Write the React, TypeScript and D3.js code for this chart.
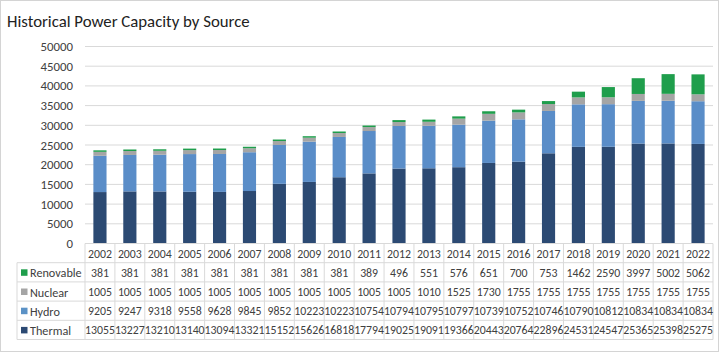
import React from "react";
import * as d3 from "d3";

const years = ["2002", "2003", "2004", "2005", "2006", "2007", "2008", "2009", "2010", "2011", "2012",
  "2013", "2014", "2015", "2016", "2017", "2018", "2019", "2020", "2021", "2022"];

const renovable = [381, 381, 381, 381, 381, 381, 381, 381, 381, 389, 496, 551, 576, 651, 700, 753, 1462, 2590, 3997, 5002, 5062];
const nuclear = [1005, 1005, 1005, 1005, 1005, 1005, 1005, 1005, 1005, 1005, 1005, 1010, 1525, 1730, 1755, 1755, 1755, 1755, 1755, 1755, 1755];
const hydro = [9205, 9247, 9318, 9558, 9628, 9845, 9852, 10223, 10223, 10754, 10794, 10795, 10797, 10739, 10752, 10746, 10790, 10812, 10834, 10834, 10834];
const thermal = [13055, 13227, 13210, 13140, 13094, 13321, 15152, 15626, 16818, 17794, 19025, 19091, 19366, 20443, 20764, 22896, 24531, 24547, 25365, 25398, 25275];

const yTicks = [0, 5000, 10000, 15000, 20000, 25000, 30000, 35000, 40000, 45000, 50000];

const series = [
  { key: "Thermal", values: thermal, color: "#2c4a73", legend: "#2c4a73" },
  { key: "Hydro", values: hydro, color: "#5a8dc8", legend: "#5b92c6" },
  { key: "Nuclear", values: nuclear, color: "#a5a5a5", legend: "#a5a5a5" },
  { key: "Renovable", values: renovable, color: "#1f9e4c", legend: "#1f9e4c" },
];

const W = 720;
const H = 354;
const FONT = "Carlito, Calibri, 'Open Sans', sans-serif";

export default function App() {
  const left = 85;
  const right = 713;
  const top = 46.5;
  const base = 243.5;
  const rowH = 19.2;

  const x = d3.scaleBand<string>().domain(years).range([left, right]).padding(0);
  const y = d3.scaleLinear().domain([0, 50000]).range([base, top]);
  const barW = x.bandwidth() * 0.44;

  const table = years.map((yr, i) => {
    const row: any = { year: yr };
    series.forEach(s => (row[s.key] = s.values[i]));
    return row;
  });
  const stacked = d3.stack<any>().keys(series.map(s => s.key))(table);

  // rows of the data table, top to bottom
  const tableRows = [...series].reverse();
  const tableTop = base;
  const tableBottom = base + rowH * (tableRows.length + 1);
  const legendLeft = 17;

  return (
    <div style={{ position: "absolute", left: 0, top: 0 }}>
      <svg width={W} height={H} style={{ display: "block", fontFamily: FONT }}>
        <rect x={0} y={0} width={W} height={H} fill="#fff" />
        <rect x={0.5} y={0.5} width={W - 2} height={H - 3} fill="none" stroke="#d4d4d4" />

        <text x={7} y={26.5} fontSize={16.8} fill="#222">Historical Power Capacity by Source</text>

        {yTicks.map(t => (
          <g key={t}>
            {t > 0 && (
              <line x1={left} x2={right} y1={y(t)} y2={y(t)} stroke="#d9d9d9" strokeWidth={1} />
            )}
            <text x={73} y={y(t)} textAnchor="end" dominantBaseline="central" fontSize={12.8} fill="#404040">
              {t}
            </text>
          </g>
        ))}

        {stacked.map((layer, li) => (
          <g key={layer.key} fill={series[li].color}>
            {layer.map((d, i) => (
              <rect
                key={years[i]}
                x={x(years[i])! + (x.bandwidth() - barW) / 2}
                width={barW}
                y={y(d[1])}
                height={y(d[0]) - y(d[1])}
              />
            ))}
          </g>
        ))}

        {/* data table */}
        <g stroke="#d9d9d9" strokeWidth={1} fill="none">
          <line x1={left} x2={right} y1={tableTop} y2={tableTop} />
          {d3.range(1, tableRows.length + 2).map(r => (
            <line key={r} x1={legendLeft} x2={right} y1={tableTop + r * rowH} y2={tableTop + r * rowH} />
          ))}
          <line x1={legendLeft} x2={legendLeft} y1={tableTop + rowH} y2={tableBottom} />
          {years.map(yr => (
            <line key={yr} x1={x(yr)!} x2={x(yr)!} y1={tableTop} y2={tableBottom} />
          ))}
          <line x1={right} x2={right} y1={tableTop} y2={tableBottom} />
        </g>

        {years.map(yr => (
          <text key={yr} x={x(yr)! + x.bandwidth() / 2} y={tableTop + rowH / 2 + 0.5} textAnchor="middle"
            dominantBaseline="central" fontSize={11.8} fill="#404040">
            {yr}
          </text>
        ))}

        {tableRows.map((s, r) => {
          const cy = tableTop + rowH * (r + 1) + rowH / 2 + 0.5;
          return (
            <g key={s.key}>
              <rect x={21} y={cy - 3.5} width={6.5} height={6.5} fill={s.legend} />
              <text x={30} y={cy} dominantBaseline="central" fontSize={12.2} fill="#404040">{s.key}</text>
              {s.values.map((v, i) => (
                <text key={i} x={x(years[i])! + x.bandwidth() / 2} y={cy} textAnchor="middle"
                  dominantBaseline="central" fontSize={11.8} fill="#404040">
                  {v}
                </text>
              ))}
            </g>
          );
        })}
      </svg>
    </div>
  );
}
